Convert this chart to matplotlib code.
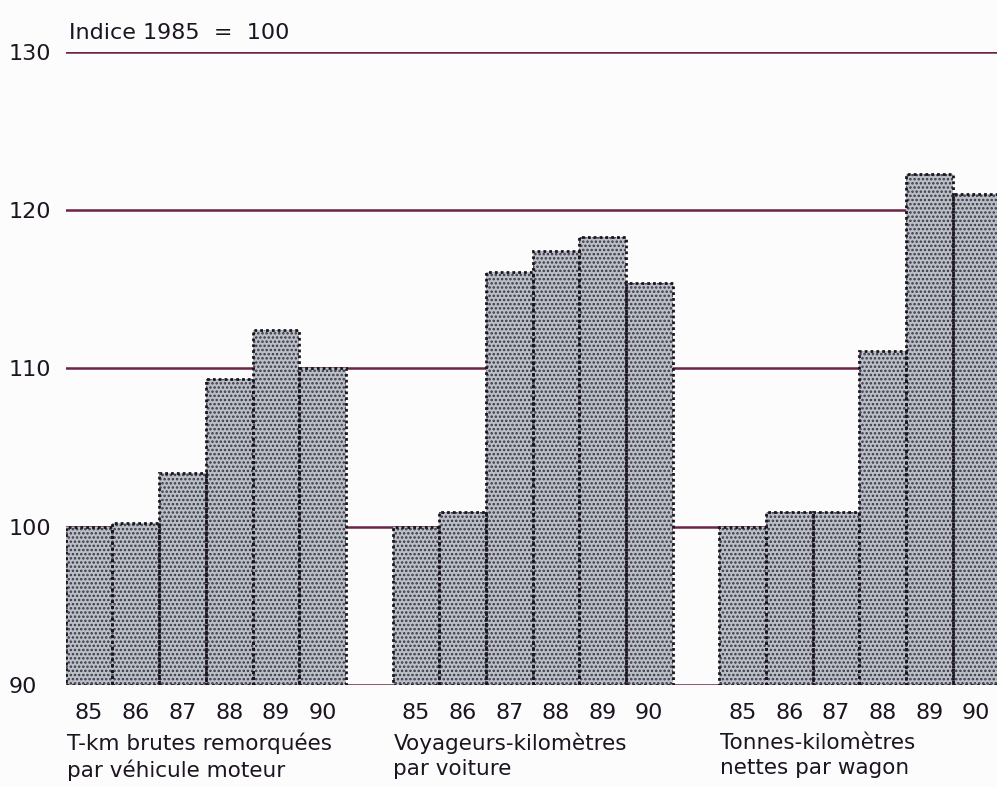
import matplotlib.pyplot as plt

years = ['85', '86', '87', '88', '89', '90']
groups = [
    'T-km brutes remorquées\npar véhicule moteur',
    'Voyageurs-kilomètres\npar voiture',
    'Tonnes-kilomètres\nnettes par wagon',
]
tkm_brutes = [100.0, 100.25, 103.4, 109.3, 112.4, 110.0]
voy_km = [100.0, 100.9, 116.1, 117.4, 118.3, 115.4]
tonnes_km = [100.0, 100.9, 100.9, 111.1, 122.3, 121.0]
series = [tkm_brutes, voy_km, tonnes_km]
y_ticks = [90, 100, 110, 120, 130]

plt.rcParams['font.family'] = ['DejaVu Sans']
plt.rcParams['hatch.linewidth'] = 1.2
txt_col = '#1c1420'

fig = plt.figure(figsize=(9.97, 7.87), dpi=100)
fig.patch.set_facecolor('#fcfcfc')
ax = fig.add_axes([0.066, 0.130, 0.934, 0.804])
ax.set_facecolor('#fcfcfc')

line_col = '#6b2347'
for y in y_ticks:
    ax.axhline(y, color=line_col, linewidth=1.8, zorder=1)

centers = []
labels = []
for g, vals in enumerate(series):
    start = g * 7
    xs = [start + i for i in range(len(vals))]
    heights = [v - 90 for v in vals]
    # dotted fill
    ax.bar(xs, heights, bottom=90, width=1.0, align='edge',
           color='#b9c1c4', edgecolor='#3c3249', hatch='....',
           linewidth=0, zorder=2)
    # dotted outlines
    ax.bar(xs, heights, bottom=90, width=1.0, align='edge',
           facecolor='none', edgecolor='#1a141e',
           linewidth=2.0, linestyle=(0, (1, 1.1)), zorder=3)
    centers += [x + 0.5 for x in xs]
    labels += years
    ax.text(start + 0.02, -0.076, groups[g], transform=ax.get_xaxis_transform(),
            ha='left', va='top', fontsize=15.5, linespacing=1.3,
            color=txt_col, clip_on=False)

ax.set_xlim(0, 19.95)
ax.set_ylim(90, 130)
ax.set_xticks(centers)
ax.set_xticklabels(labels, fontsize=16, color=txt_col)
ax.set_yticks(y_ticks)
ax.set_yticklabels([str(y) for y in y_ticks], fontsize=16, ha='left', color=txt_col)
ax.tick_params(axis='x', length=0, pad=13)
ax.tick_params(axis='y', length=0, pad=41)
for s in ax.spines.values():
    s.set_visible(False)

ax.text(0.003, 1.014, 'Indice 1985  =  100', transform=ax.transAxes,
        ha='left', va='bottom', fontsize=16, color=txt_col)

fig.savefig('out.png', dpi=100, facecolor=fig.get_facecolor())
